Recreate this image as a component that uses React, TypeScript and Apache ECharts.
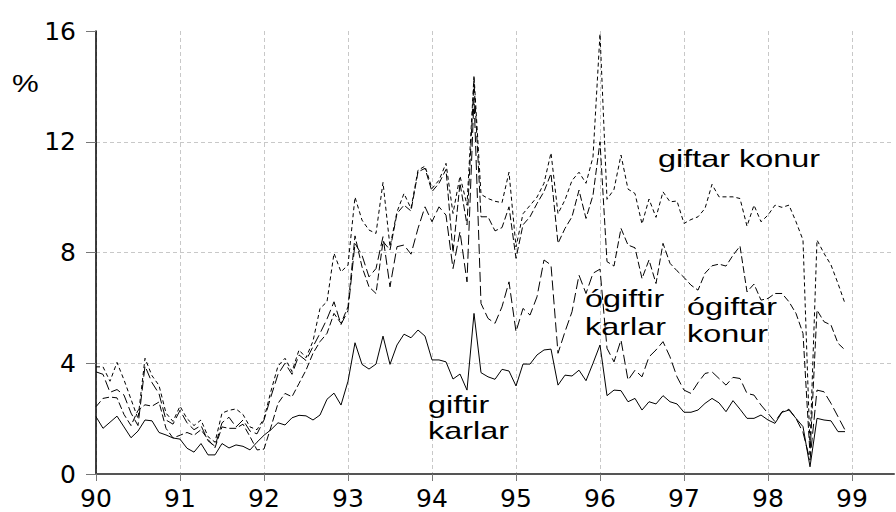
import React, { useEffect, useRef } from "react";
import * as echarts from "echarts";

// Monthly series, Jan 1990 .. Dec 1998 (108 months)
const startYear = 90;
const xTickValues = [90, 91, 92, 93, 94, 95, 96, 97, 98, 99];
const yTickValues = [0, 4, 8, 12, 16];

// giftir karlar (solid)
const giftirKarlar = [
  2.07, 1.65, 1.87, 2.09, 1.7, 1.31, 1.55, 1.95, 1.92, 1.5, 1.41, 1.3,
  1.26, 0.93, 0.79, 1.1, 0.69, 0.69, 1.1, 0.94, 1.05, 1.0, 0.87, 1.15,
  1.4, 1.6, 1.85, 1.77, 2.03, 2.12, 2.1, 1.95, 2.13, 2.7, 2.92, 2.49,
  3.35, 4.74, 3.96, 3.79, 3.97, 4.98, 3.96, 4.66, 5.05, 4.92, 5.2, 4.98,
  4.12, 4.12, 4.05, 3.43, 3.61, 3.03, 5.8, 3.66, 3.51, 3.42, 3.78, 3.72,
  3.18, 3.97, 3.97, 4.3, 4.48, 4.51, 3.21, 3.57, 3.54, 3.75, 3.37, 4.0,
  4.66, 2.83, 3.03, 3.01, 2.61, 2.73, 2.31, 2.61, 2.53, 2.83, 2.61, 2.53,
  2.23, 2.23, 2.31, 2.55, 2.73, 2.57, 2.25, 2.65, 2.34, 2.01, 2.01, 2.13,
  1.95, 1.83, 2.23, 2.31, 2.01, 1.71, 0.26, 2.01, 1.95, 1.92, 1.53, 1.53,
];

// giftar konur (short dash, top line)
const giftarKonur = [
  3.87, 3.87, 3.35, 4.03, 3.4, 2.7, 2.0, 4.18, 3.55, 3.2, 2.2, 1.9,
  2.45, 2.0, 1.75, 1.95, 1.35, 1.15, 2.2, 2.3, 2.35, 2.15, 1.7, 1.6,
  2.0, 3.0, 3.9, 4.18, 3.7, 4.48, 4.2, 4.8, 5.98, 6.22, 7.97, 7.3,
  7.55, 10.0, 9.17, 8.81, 8.69, 10.53, 8.21, 9.47, 10.13, 9.59, 10.97, 11.12,
  10.31, 10.61, 11.22, 9.41, 10.76, 9.71, 14.4, 10.1, 9.95, 9.85, 9.8, 10.9,
  8.2, 9.4, 9.7, 10.0, 10.5, 11.6, 9.4, 9.9, 10.6, 10.9, 10.5, 11.45,
  15.9, 9.92, 10.28, 11.52, 10.29, 10.13, 9.03, 9.93, 9.27, 10.19, 9.83, 9.86,
  9.05, 9.19, 9.29, 9.59, 10.46, 10.01, 10.01, 10.01, 9.95, 8.95, 9.71, 9.11,
  9.35, 9.71, 9.63, 9.71, 9.11, 8.45, 1.0, 8.45, 7.97, 7.55, 6.88, 6.16,
];

// ógiftar konur (medium dash)
const ogiftarKonur = [
  2.43, 2.73, 2.78, 2.75, 2.15, 1.75, 2.3, 2.5, 2.45, 2.6, 1.65, 1.3,
  1.4, 1.5, 1.4, 1.6, 1.25, 0.95, 1.7, 1.65, 1.65, 1.8, 1.35, 0.87,
  0.9, 1.7, 2.55, 2.91, 2.79, 3.27, 3.75, 4.36, 4.78, 5.08, 5.8, 5.44,
  6.04, 8.6, 7.48, 6.76, 6.52, 8.4, 8.09, 9.41, 9.71, 9.5, 10.91, 11.04,
  10.2, 10.5, 11.0, 8.0, 10.5, 9.0, 14.2, 9.29, 9.29, 8.78, 8.9, 9.65,
  7.79, 9.0, 9.29, 9.77, 10.2, 10.85, 8.33, 8.87, 9.29, 10.25, 9.23, 10.07,
  12.0, 7.67, 7.51, 8.87, 8.27, 8.17, 7.06, 7.73, 6.88, 8.33, 7.61, 7.34,
  7.1, 6.82, 6.64, 7.25, 7.52, 7.58, 7.51, 7.9, 8.23, 6.58, 6.86, 6.28,
  6.34, 6.52, 6.52, 6.22, 5.8, 5.08, 0.7, 5.92, 5.5, 5.38, 4.72, 4.48,
];

// ógiftir karlar (long dash)
const ogiftirKarlar = [
  3.69, 3.6, 2.95, 3.05, 2.85, 2.2, 1.75, 3.9, 3.3, 2.9, 1.95, 1.8,
  2.3, 1.85, 1.6, 1.75, 1.2, 1.0, 1.85, 2.05, 1.7, 1.95, 1.55, 1.45,
  1.95, 2.8, 3.6, 4.0, 3.6, 4.3, 4.1, 4.6, 5.08, 5.6, 6.22, 5.4,
  5.9, 8.33, 7.9, 7.12, 7.42, 8.57, 6.76, 8.21, 8.27, 7.94, 8.87, 9.65,
  9.11, 9.65, 9.35, 7.42, 8.75, 6.94, 13.6, 6.16, 5.62, 5.44, 6.04, 6.94,
  5.14, 5.98, 5.74, 6.4, 7.73, 7.55, 4.36, 5.14, 5.86, 7.18, 6.52, 7.25,
  7.4, 4.54, 4.05, 4.84, 3.39, 3.75, 3.51, 4.23, 4.48, 4.78, 4.23, 3.51,
  3.03, 2.91, 3.3, 3.63, 3.69, 3.45, 3.21, 3.49, 3.45, 2.91, 2.85, 2.49,
  2.19, 1.89, 2.25, 2.34, 2.01, 1.5, 0.5, 3.03, 2.97, 2.55, 2.07, 1.59,
];

const toPairs = (vals: number[]) => vals.map((v, i) => [startYear + i / 12, v]);

const labelFont = "Liberation Sans, Arial, sans-serif";

export default function App() {
  const ref = useRef<HTMLDivElement>(null);
  useEffect(() => {
    if (!ref.current) return;
    const chart = echarts.init(ref.current, undefined, { renderer: "svg" });
    const mkSeries = (name: string, vals: number[], type: any) => ({
      name,
      type: "line",
      data: toPairs(vals),
      symbol: "none",
      showSymbol: false,
      silent: true,
      lineStyle: { color: "#000", width: 1, type },
      z: 3,
    });
    const textEl = (text: string, x: number, y: number, lh: number) => ({
      type: "text",
      x,
      y,
      scaleX: 1.35,
      z: 10,
      style: {
        text,
        font: `24px ${labelFont}`,
        fill: "#000",
        align: "left",
        verticalAlign: "top",
        lineHeight: lh,
      },
    });
    chart.setOption({
      animation: false,
      backgroundColor: "#fff",
      grid: { left: 96, right: 2, top: 31, bottom: 38, containLabel: false, outerBoundsMode: "none" },
      xAxis: {
        type: "value",
        min: 90,
        max: 99.5,
        interval: 1,
        axisLine: { show: true, onZero: false, lineStyle: { color: "#555", width: 2 } },
        axisTick: { show: true, length: 7, inside: false, customValues: xTickValues, lineStyle: { color: "#777", width: 1 } },
        axisLabel: {
          customValues: xTickValues,
          margin: 12,
          fontSize: 25,
          fontFamily: "DejaVu Sans",
          color: "#000",
          formatter: (v: number) => String(v),
        },
        splitLine: { show: true, lineStyle: { color: "#c8c8c8", width: 1, type: [4, 3] } },
      },
      yAxis: {
        type: "value",
        min: 0,
        max: 16,
        interval: 4,
        axisLine: { show: true, lineStyle: { color: "#000", width: 1.5 } },
        axisTick: { show: true, length: 10, lineStyle: { color: "#777", width: 1 } },
        axisLabel: {
          customValues: yTickValues,
          margin: 20,
          fontSize: 25,
          fontFamily: "DejaVu Sans",
          color: "#000",
          padding: [0, 0, 6, 0],
        },
        splitLine: { show: true, showMinLine: false, showMaxLine: false, lineStyle: { color: "#c8c8c8", width: 1, type: [4, 3] } },
      },
      series: [
        mkSeries("giftir karlar", giftirKarlar, "solid"),
        mkSeries("ógiftir karlar", ogiftirKarlar, [10, 4]),
        mkSeries("ógiftar konur", ogiftarKonur, [7, 3]),
        mkSeries("giftar konur", giftarKonur, [4, 3]),
      ],
      graphic: [
        {
          type: "text",
          x: 12,
          y: 72,
          scaleX: 1.25,
          style: { text: "%", font: `24px ${labelFont}`, fill: "#000", align: "left", verticalAlign: "top" },
        },
        textEl("giftar konur", 658, 147, 24),
        textEl("giftir\nkarlar", 428, 392, 26),
        textEl("ógiftir\nkarlar", 585, 285, 28),
        textEl("ógiftar\nkonur", 687, 293, 27),
      ],
    });
    return () => chart.dispose();
  }, []);
  return (
    <div
      ref={ref}
      style={{ position: "fixed", left: 0, top: 0, width: 896, height: 512, background: "#fff" }}
    />
  );
}
